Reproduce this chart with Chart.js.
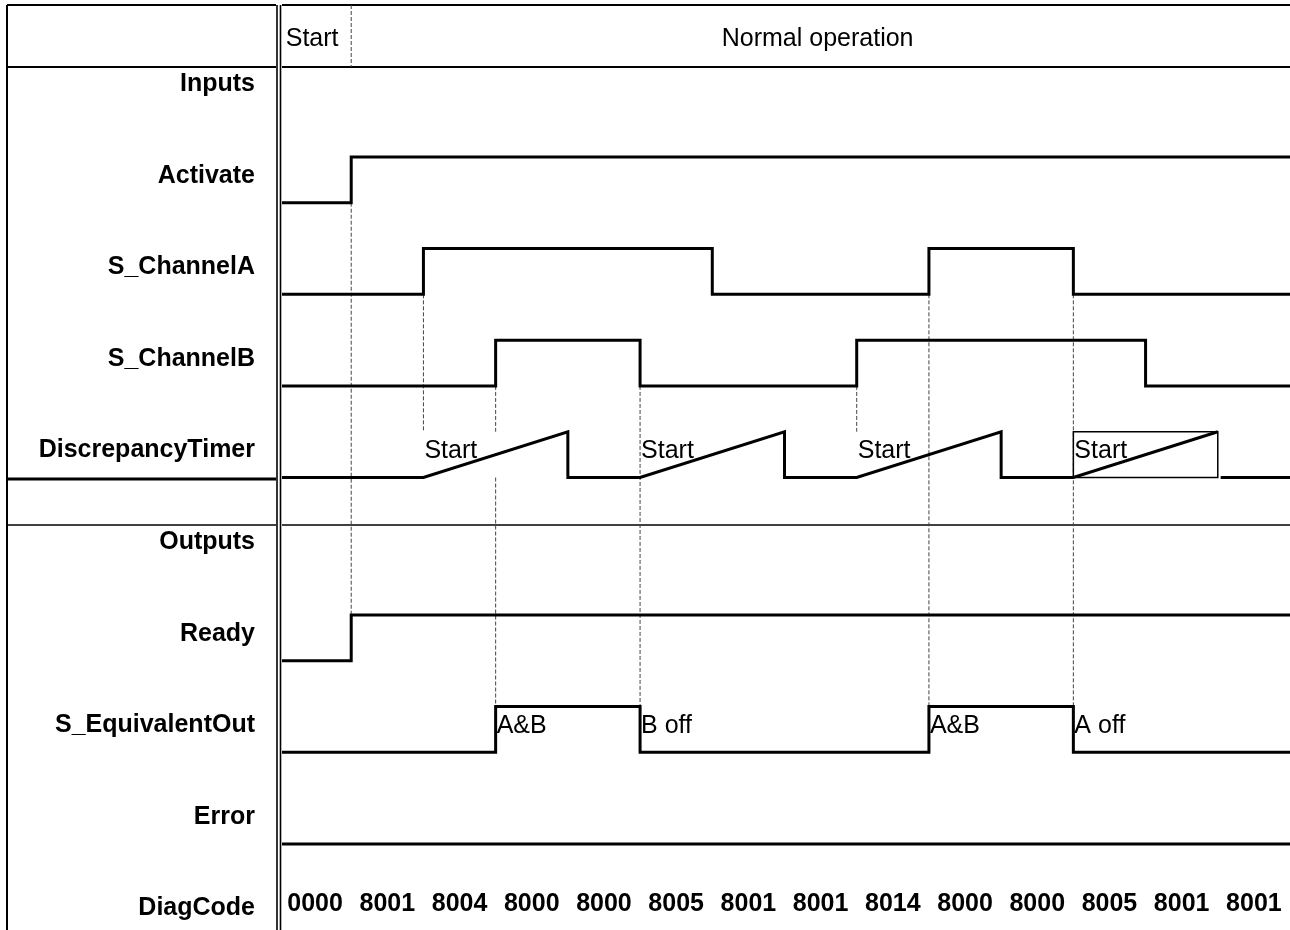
<!DOCTYPE html>
<html>
<head>
<meta charset="utf-8">
<title>Diagrama de tiempos</title>
<script src="https://cdn.jsdelivr.net/npm/chart.js@4.4.1/dist/chart.umd.min.js"></script>
<style>
  html, body { margin: 0; padding: 0; background: #fff; }
  #wrap { width: 1290px; height: 930px; position: relative; }
</style>
</head>
<body>
<div id="wrap"><canvas id="timing"></canvas></div>
<script>
// Filas (columna izquierda), fases y códigos de diagnóstico
const rowLabels = ['Inputs', 'Activate', 'S_ChannelA', 'S_ChannelB', 'DiscrepancyTimer',
                   'Outputs', 'Ready', 'S_EquivalentOut', 'Error', 'DiagCode'];
const phases = [['Start', 0, 1], ['Normal operation', 1, 14]];
const diagCodes = ['0000', '8001', '8004', '8000', '8000', '8005', '8001',
                   '8001', '8014', '8000', '8000', '8005', '8001', '8001'];

// Nivel de cada señal por intervalo de tiempo (0 = bajo, 1 = alto)
const activate      = [0, 1, 1, 1, 1, 1, 1, 1, 1, 1, 1, 1, 1, 1];
const channelA      = [0, 0, 1, 1, 1, 1, 0, 0, 0, 1, 1, 0, 0, 0];
const channelB      = [0, 0, 0, 1, 1, 0, 0, 0, 1, 1, 1, 1, 0, 0];
const ready         = [0, 1, 1, 1, 1, 1, 1, 1, 1, 1, 1, 1, 1, 1];
const equivalentOut = [0, 0, 0, 1, 1, 0, 0, 0, 0, 1, 1, 0, 0, 0];
const errorOut      = [0, 0, 0, 0, 0, 0, 0, 0, 0, 0, 0, 0, 0, 0];

// Temporizador de discrepancia: inicios, duración y si se dibuja como ventana
const timerStarts = [2, 5, 8, 11];
const timerRun = 2;
const timerWindow = [false, false, false, true];
const timerNotes = ['Start', 'Start', 'Start', 'Start'];

// Textos en los flancos de S_EquivalentOut
const eqNoteTimes = [3, 5, 9, 11];
const eqNotes = ['A&B', 'B off', 'A&B', 'A off'];

// Líneas guía: tiempo, desde fila/nivel, hasta fila/nivel
const guides = [
  [1, 'Activate', 0, 'Ready', 1],
  [2, 'S_ChannelA', 0, 'DiscrepancyTimer', 1],
  [3, 'S_ChannelB', 0, 'DiscrepancyTimer', 1],
  [3, 'DiscrepancyTimer', 0, 'S_EquivalentOut', 1],
  [5, 'S_ChannelB', 0, 'S_EquivalentOut', 1],
  [8, 'S_ChannelB', 0, 'DiscrepancyTimer', 1],
  [9, 'S_ChannelA', 0, 'S_EquivalentOut', 1],
  [11, 'S_ChannelA', 0, 'S_EquivalentOut', 1]
];

const LOW = 0.33;   // desplazamiento del nivel bajo respecto al centro de la fila
const AMP = 0.5;    // altura del nivel alto
const FONT = '"Liberation Sans", Arial, Helvetica, sans-serif';
Chart.defaults.font.family = FONT;

const rowOf = name => rowLabels.indexOf(name) + 1;
const nivel = (name, v) => rowOf(name) + LOW - AMP * v;

// Convierte niveles por intervalo en puntos escalonados
function pasos(name, levels) {
  const pts = levels.map((v, i) => ({ x: i, y: nivel(name, v) }));
  pts.push({ x: levels.length, y: nivel(name, levels[levels.length - 1]) });
  return pts;
}

// Rampa del temporizador
const T = 'DiscrepancyTimer';
const timerPts = [{ x: 0, y: nivel(T, 0) }];
const windowPts = [];
timerStarts.forEach((s, k) => {
  const e = s + timerRun;
  timerPts.push({ x: s, y: nivel(T, 0) }, { x: e, y: nivel(T, 1) });
  if (timerWindow[k]) {
    timerPts.push({ x: e, y: null }, { x: e + 0.04, y: nivel(T, 0) });
    windowPts.push({ x: s, y: nivel(T, 0) }, { x: s, y: nivel(T, 1) }, { x: e, y: nivel(T, 1) },
                   { x: e, y: nivel(T, 0) }, { x: s, y: nivel(T, 0) });
  } else {
    timerPts.push({ x: e, y: nivel(T, 0) });
  }
});
timerPts.push({ x: diagCodes.length, y: nivel(T, 0) });

function linea(data, extra) {
  return Object.assign({
    data: data, borderColor: '#000', borderWidth: 3, pointRadius: 0,
    borderJoinStyle: 'miter', borderCapStyle: 'butt', fill: false, spanGaps: false
  }, extra || {});
}

const tablaPlugin = {
  id: 'tabla',
  beforeDraw(chart) {
    const ctx = chart.ctx;
    ctx.save();
    ctx.fillStyle = '#fff';
    ctx.fillRect(0, 0, chart.width, chart.height);
    ctx.restore();
  },
  beforeDatasetsDraw(chart) {
    const { ctx, scales: { x, y } } = chart;
    const W = chart.width, H = chart.height;
    const X = t => x.getPixelForValue(t);
    const Y = (name, v) => y.getPixelForValue(nivel(name, v));
    ctx.save();
    ctx.strokeStyle = '#000';
    const seg = (x1, y1, x2, y2, lw) => {
      ctx.lineWidth = lw;
      ctx.beginPath(); ctx.moveTo(x1, y1); ctx.lineTo(x2, y2); ctx.stroke();
    };
    // marco de la tabla
    seg(7, 5, W, 5, 2);
    seg(7, 67, W, 67, 2);
    seg(7, 5, 7, H, 2);
    seg(7, Y(T, 0) + 1.5, 277, Y(T, 0) + 1.5, 3);
    seg(7, 525, W, 525, 1.5);

    // líneas guía discontinuas
    ctx.setLineDash([4, 2]);
    ctx.strokeStyle = '#444';
    seg(X(phases[1][1]), 5, X(phases[1][1]), 67, 1);
    guides.forEach(g => {
      seg(X(g[0]), Y(g[1], g[2]), X(g[0]), Y(g[3], g[4]), 1);
    });
    ctx.restore();
  },
  afterDatasetsDraw(chart) {
    const { ctx, scales: { x, y } } = chart;
    const H = chart.height;
    const X = t => x.getPixelForValue(t);
    const Y = (name, v) => y.getPixelForValue(nivel(name, v));
    ctx.save();
    // doble línea vertical
    ctx.fillStyle = '#fff';
    ctx.fillRect(276, 0, 6, H);
    ctx.strokeStyle = '#000';
    ctx.lineWidth = 1.6;
    [277, 280.5].forEach(px => {
      ctx.beginPath(); ctx.moveTo(px, 5); ctx.lineTo(px, H); ctx.stroke();
    });

    ctx.fillStyle = '#000';
    ctx.font = '25px ' + FONT;
    ctx.textBaseline = 'alphabetic';
    // encabezado de fases
    ctx.textAlign = 'center';
    phases.forEach(p => ctx.fillText(p[0], (X(p[1]) + X(p[2])) / 2 - 3, 46));

    ctx.textAlign = 'left';
    timerStarts.forEach((s, k) => ctx.fillText(timerNotes[k], X(s) + 1, Y(T, 1) + 26));
    eqNoteTimes.forEach((t, k) => ctx.fillText(eqNotes[k], X(t) + 1, Y('S_EquivalentOut', 1) + 26));

    // códigos de diagnóstico
    ctx.font = 'bold 25px ' + FONT;
    ctx.textAlign = 'center';
    ctx.textBaseline = 'middle';
    diagCodes.forEach((c, i) => ctx.fillText(c, X(i + 0.5), y.getPixelForValue(rowOf('DiagCode')) - 1));
    ctx.restore();
  }
};

new Chart(document.getElementById('timing'), {
  type: 'line',
  data: {
    datasets: [
      linea(pasos('Activate', activate), { stepped: true }),
      linea(pasos('S_ChannelA', channelA), { stepped: true }),
      linea(pasos('S_ChannelB', channelB), { stepped: true }),
      linea(timerPts),
      linea(windowPts, { borderWidth: 1.5 }),
      linea(pasos('Ready', ready), { stepped: true }),
      linea(pasos('S_EquivalentOut', equivalentOut), { stepped: true }),
      linea(pasos('Error', errorOut), { stepped: true })
    ]
  },
  options: {
    responsive: true,
    maintainAspectRatio: false,
    animation: false,
    events: [],
    layout: { padding: 0 },
    plugins: { legend: { display: false }, tooltip: { enabled: false } },
    scales: {
      x: { type: 'linear', min: 0, max: diagCodes.length, display: false },
      y: {
        type: 'linear',
        reverse: true,
        min: 0.1168,
        max: 10.2697,
        // etiquetas de fila un poco por debajo del centro
        afterBuildTicks: s => { s.ticks = rowLabels.map((_, i) => ({ value: i + 1.035 })); },
        afterFit: s => { s.width = 279; s.paddingTop = 0; s.paddingBottom = 0; },
        grid: { display: false },
        border: { display: false },
        ticks: {
          autoSkip: false,
          padding: 16,
          color: '#000',
          font: { size: 25, weight: 'bold' },
          callback: v => rowLabels[Math.round(v) - 1]
        }
      }
    }
  },
  plugins: [tablaPlugin]
});
</script>
</body>
</html>
